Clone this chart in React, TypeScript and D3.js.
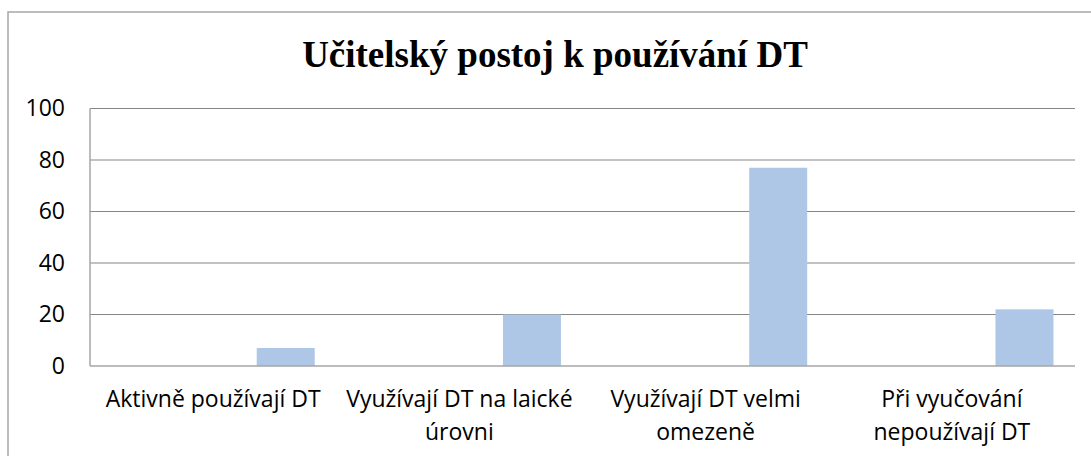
import React from "react";
import * as d3 from "d3";

const title = "Učitelský postoj k používání DT";
const categories = [
  "Aktivně používají DT",
  "Využívají DT na laické úrovni",
  "Využívají DT velmi omezeně",
  "Při vyučování nepoužívají DT",
];
const categoryLines = [
  ["Aktivně používají DT"],
  ["Využívají DT na laické", "úrovni"],
  ["Využívají DT velmi", "omezeně"],
  ["Při vyučování", "nepoužívají DT"],
];
const values = [7, 20, 77, 22];
const yTicks = [0, 20, 40, 60, 80, 100];

const W = 1091;
const H = 456;
const plot = { left: 90, right: 1075, top: 108.5, bottom: 366 };

export default function App() {
  const x = d3.scaleBand<string>().domain(categories).range([plot.left, plot.right]).padding(0);
  const y = d3.scaleLinear().domain([0, 100]).range([plot.bottom, plot.top]);
  const bw = x.bandwidth();
  const barOff = bw * 0.677;
  const barW = bw * 0.2355;
  const labelFont = "'Open Sans', 'Noto Sans', sans-serif";
  return (
    <svg width={W} height={H} style={{ position: "absolute", left: 0, top: 0 }}>
      <rect x={0} y={0} width={W} height={H} fill="#fff" />
      <rect x={8} y={12} width={W + 20} height={H + 20} fill="none" stroke="#a6a6a6" strokeWidth={1.5} />
      <text x={555} y={67} textAnchor="middle" fontFamily="'Liberation Serif', serif" fontWeight="bold" fontSize={37} fill="#000">
        {title}
      </text>
      {yTicks.map((t) => (
        <g key={t}>
          {t > 0 && (
            <line x1={plot.left} x2={plot.right} y1={y(t)} y2={y(t)} stroke="#868686" strokeWidth={1.2} />
          )}
          <text x={65} y={y(t) + 7.5} textAnchor="end" fontFamily={labelFont} fontSize={23} fill="#000">
            {t}
          </text>
        </g>
      ))}
      {categories.map((c, i) => (
        <rect key={c} x={(x(c) as number) + barOff} y={y(values[i])} width={barW} height={y(0) - y(values[i])} fill="#afc7e6" />
      ))}
      <line x1={plot.left} x2={plot.right} y1={y(0)} y2={y(0)} stroke="#a6a6a6" strokeWidth={1.5} />
      <line x1={plot.left} x2={plot.left} y1={plot.top} y2={plot.bottom} stroke="#a6a6a6" strokeWidth={1.5} />
      {categories.map((c, i) => (
        <text key={c} textAnchor="middle" fontFamily={labelFont} fontSize={23} fill="#000">
          {categoryLines[i].map((ln, j) => (
            <tspan key={j} x={(x(c) as number) + bw / 2} y={407 + j * 33}>
              {ln}
            </tspan>
          ))}
        </text>
      ))}
    </svg>
  );
}
